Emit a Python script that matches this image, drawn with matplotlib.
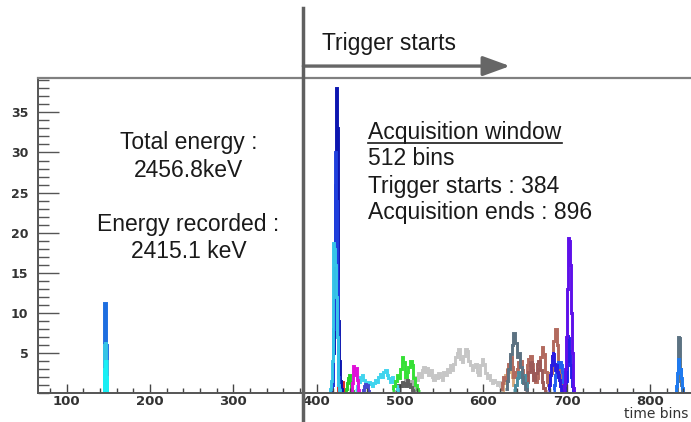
import matplotlib.pyplot as plt
import numpy as np
from matplotlib.lines import Line2D
from matplotlib.ticker import MultipleLocator

plt.rcParams["font.family"] = ["Liberation Sans", "DejaVu Sans"]

# ---- pulse traces: counts per bin, with first bin edge and bin width ----
# early pulse (before trigger)
pre_blue_start, pre_blue = 144, [0, 11.2, 11.2, 6.0, 0]
pre_cyan_start, pre_cyan = 144, [0, 6.0, 6.2, 4.0, 0]
pre_lcyan_start, pre_lcyan = 144, [0, 3.0, 4.0, 2.0, 0]

# main pulse right after the trigger
main_navy_start = 416
main_navy = [0, 0.5, 1, 2, 5, 12, 26, 38, 33, 20, 9, 4, 1.5, 0.5, 0]
main_blue_start = 417
main_blue = [0, 1, 3, 8, 16, 30, 24, 14, 6, 2, 0.5, 0]
main_cyan_start = 415
main_cyan = [0, 0.5, 1.5, 4, 9, 18.7, 18, 16, 12, 7, 3, 1, 0.3, 0]

# small pulses 425-525 (1 bin and 2 bin resolution)
red_start, red = 425, [0, 1, 1.6, 1.2, 0.8, 1.4, 0.6, 0.3, 0]
green_start, green = 434, [0, 0.5, 1.2, 2.0, 1.6, 2.2, 1.4, 0.6, 0.2, 0]
magenta_start = 440
magenta = [0, 0.4, 1.2, 2.3, 3.3, 3.0, 2.2, 3.1, 1.6, 0.8, 0.3, 0]
indigo_start, indigo = 455, [0, 0.4, 0.8, 1.1, 0.7, 1.0, 0.5, 0.2, 0]
cyan2_start = 446
cyan2 = [0.3, 0.8, 1.4, 2.0, 2.2, 1.6, 1.2, 1.0, 1.3, 1.1, 0.8, 1.2, 1.6, 1.4,
         1.9, 2.3, 2.0, 2.6, 2.8, 2.2, 1.8, 1.4, 2.0, 1.5, 0.9, 0.5, 0.2]
green2_start = 490
green2 = [0.3, 0.8, 1.5, 2.2, 1.8, 3.0, 4.5, 3.8, 2.0, 2.6, 3.2, 4.0, 3.5, 1.8,
          1.0, 0.5, 0.2]
dgray_start = 494
dgray = [0.2, 0.6, 1.0, 0.8, 1.4, 1.2, 0.9, 1.6, 1.1, 0.7, 0.4, 0.2]
mgray_start = 498
mgray = [0.3, 0.8, 1.4, 1.0, 1.8, 1.2, 0.9, 1.5, 1.1, 0.6, 0.3]
lgray_start = 514
lgray = [0.5, 1.2, 2.0, 1.6, 2.4, 2.0, 2.8, 3.2, 2.6, 3.1, 2.2, 2.8, 2.0, 1.6,
         2.2, 1.8, 2.4, 2.0, 1.6, 2.6, 2.2, 3.0, 2.6, 3.4, 2.8, 3.6, 4.4, 5.0,
         5.4, 4.2, 3.8, 4.6, 5.4, 5.2, 4.0, 3.4, 2.8, 3.2, 3.6, 2.6, 2.2, 3.4,
         4.2, 3.6, 2.4, 1.8, 2.2, 1.6, 1.2, 1.6, 1.4, 1.0, 1.3, 0.8, 0.4]

# pulses 620-700
tan_start, tan = 622, [0.4, 1.2, 2.2, 3.0, 2.6, 3.2, 2.0, 1.0, 0.4]
rosy_start = 620
rosy = [0.5, 1.2, 2.0, 1.6, 2.8, 3.6, 4.5, 3.2, 2.0, 2.6, 3.0, 3.8, 4.0, 2.8,
        1.6, 2.2, 3.4, 4.2, 4.6, 3.6, 2.2, 1.4, 1.8, 3.0, 4.4, 5.7, 4.8, 2.6,
        1.4, 1.0, 2.4, 4.6, 6.4, 7.9, 6.0, 3.0, 1.2, 0.4]
mauve_start = 650
mauve = [0.4, 1.4, 2.6, 3.8, 2.8, 1.6, 2.4, 3.6, 4.0, 2.8, 1.4, 0.6, 0.2]
teal_start, teal = 636, [0.3, 1.0, 1.8, 2.6, 2.0, 1.4, 2.2, 1.2, 0.5]
slate_start = 626
slate = [0.5, 1.5, 3.0, 4.8, 6.0, 7.4, 6.2, 4.4, 5.0, 3.2, 2.0, 1.2, 0.5, 0.2]

# late pulse 680-710
late_blue_start = 678
late_blue = [0.3, 1.0, 2.2, 3.4, 4.6, 5.1, 4.8, 3.6, 2.8, 3.4, 2.6, 1.8, 2.2,
             1.6, 0.8, 0.4, 0]
late_azure_start = 684
late_azure = [0.3, 1.0, 2.2, 3.0, 3.6, 4.0, 3.8, 3.2, 3.8, 3.4, 2.6, 2.0, 1.4,
              0.8, 0.3, 0]
late_violet_start = 696
late_violet = [0.3, 1.0, 3.0, 7.0, 13, 17, 19.3, 19.0, 16, 10, 5, 2, 0.6, 0]
late_blue2_start = 698
late_blue2 = [0, 1.5, 4, 7.2, 6.8, 5.2, 3.5, 2, 0.8, 0.2, 0]

# pulse at the end of the window
end_slate_start, end_slate = 831, [0, 1.5, 4, 7.0, 6.8, 3, 1, 0]
end_blue_start = 830
end_blue = [0, 0.8, 2.5, 3.2, 4.2, 2.6, 3.0, 1.8, 0.6, 0]

TRIGGER_BIN = 384
TAIL_END = 850

# (start, width, counts, colour, extend flat line to TAIL_END)
traces = [
    (lgray_start, 2, lgray, "#c6c6c6", False),
    (mgray_start, 2, mgray, "#a8a8a8", False),
    (dgray_start, 2, dgray, "#5e5e5e", False),
    (tan_start, 2, tan, "#d8aa7c", False),
    (rosy_start, 2, rosy, "#b26a5e", False),
    (mauve_start, 2, mauve, "#9c5a58", False),
    (teal_start, 2, teal, "#4a8ea0", False),
    (slate_start, 2, slate, "#5c7282", False),
    (cyan2_start, 2, cyan2, "#40d4ee", False),
    (green2_start, 2, green2, "#36e036", False),
    (red_start, 1, red, "#e02828", False),
    (green_start, 1, green, "#28d028", False),
    (indigo_start, 1, indigo, "#4848d0", False),
    (magenta_start, 1, magenta, "#e010d8", False),
    (pre_blue_start, 1, pre_blue, "#1e6ee0", False),
    (pre_cyan_start, 1, pre_cyan, "#36c4e6", False),
    (pre_lcyan_start, 1, pre_lcyan, "#19f0f4", False),
    (main_navy_start, 1, main_navy, "#0c16b0", False),
    (main_blue_start, 1, main_blue, "#1f3fdc", False),
    (main_cyan_start, 1, main_cyan, "#35c5e8", False),
    (late_azure_start, 1, late_azure, "#2060f0", True),
    (late_blue_start, 1, late_blue, "#2a1ce0", False),
    (late_blue2_start, 1, late_blue2, "#2020e6", False),
    (late_violet_start, 1, late_violet, "#5e10ea", False),
    (end_slate_start, 1, end_slate, "#5c7282", False),
    (end_blue_start, 1, end_blue, "#1e7af0", False),
]

fig = plt.figure(figsize=(6.91, 4.22), dpi=100)
ax = fig.add_axes([0.055, 0.0694, 0.945, 0.7457])

for start, width, counts, color, tail in traces:
    counts = np.asarray(counts, dtype=float)
    edges = start + width * np.arange(len(counts) + 1)
    if tail:
        edges = np.append(edges, TAIL_END)
        counts = np.append(counts, 0.0)
    ax.stairs(counts, edges, color=color, lw=2.1, baseline=None)

ax.set_xlim(65.6, 849.2)
ax.set_ylim(0, 39.3)

ax.xaxis.set_major_locator(MultipleLocator(100))
ax.xaxis.set_minor_locator(MultipleLocator(20))
ax.yaxis.set_major_locator(MultipleLocator(5))
ax.yaxis.set_minor_locator(MultipleLocator(1))
ax.set_yticks([5, 10, 15, 20, 25, 30, 35])
ax.tick_params(axis="x", which="major", direction="in", length=6.5, width=1,
               color="#444", pad=2, labelsize=9.5, labelcolor="#333")
ax.tick_params(axis="x", which="minor", direction="in", length=3.6, width=1,
               color="#444")
ax.tick_params(axis="y", which="major", direction="in", length=15, width=1,
               color="#555", pad=7, labelsize=9, labelcolor="#333")
ax.tick_params(axis="y", which="minor", direction="in", length=8, width=1,
               color="#555")
for lab in ax.get_xticklabels() + ax.get_yticklabels():
    lab.set_fontfamily("DejaVu Sans")
    lab.set_fontweight("bold")

ax.spines["right"].set_visible(False)
ax.spines["left"].set_color("#555")
ax.spines["left"].set_linewidth(1.4)
ax.spines["bottom"].set_color("#555")
ax.spines["bottom"].set_linewidth(1.4)
ax.spines["top"].set_color("#808080")
ax.spines["top"].set_linewidth(1.6)

ax.text(0.897, -0.068, "time bins", transform=ax.transAxes, ha="left",
        va="center", fontsize=10, family="DejaVu Sans", color="#333",
        clip_on=False)

# trigger marker and arrow
ax.axvline(TRIGGER_BIN, ymin=-0.093, ymax=1.222, color="#606060", lw=2.5,
           clip_on=False, zorder=5)
ax.annotate("", xy=(632, 1.038), xytext=(TRIGGER_BIN, 1.038),
            xycoords=("data", "axes fraction"),
            textcoords=("data", "axes fraction"),
            arrowprops=dict(arrowstyle="-|>,head_length=0.55,head_width=0.2",
                            mutation_scale=30, lw=2.4, color="#666",
                            shrinkA=0, shrinkB=0))
ax.text(406, 1.111, "Trigger starts", transform=ax.get_xaxis_transform(),
        ha="left", va="center", fontsize=16.5, color="#1a1a1a")

txt_kw = dict(ha="center", va="center", fontsize=16.5, color="#1a1a1a")
ax.text(246, 31.2, "Total energy :", **txt_kw)
ax.text(246, 27.7, "2456.8keV", **txt_kw)
ax.text(246, 21.0, "Energy recorded :", **txt_kw)
ax.text(246, 17.6, "2415.1 keV", **txt_kw)

info_kw = dict(ha="left", va="center", fontsize=16.5, color="#1a1a1a")
title = ax.text(462, 32.5, "Acquisition window", **info_kw)
ax.text(462, 29.2, "512 bins", **info_kw)
ax.text(462, 25.8, "Trigger starts : 384", **info_kw)
ax.text(462, 22.5, "Acquisition ends : 896", **info_kw)

# underline the box title
fig.canvas.draw()
bb = title.get_window_extent()
uy = bb.y0 + 1
fig.add_artist(Line2D([bb.x0, bb.x1], [uy, uy], transform=None,
                      color="#1a1a1a", lw=1.2))

fig.savefig("out.png", dpi=100)
